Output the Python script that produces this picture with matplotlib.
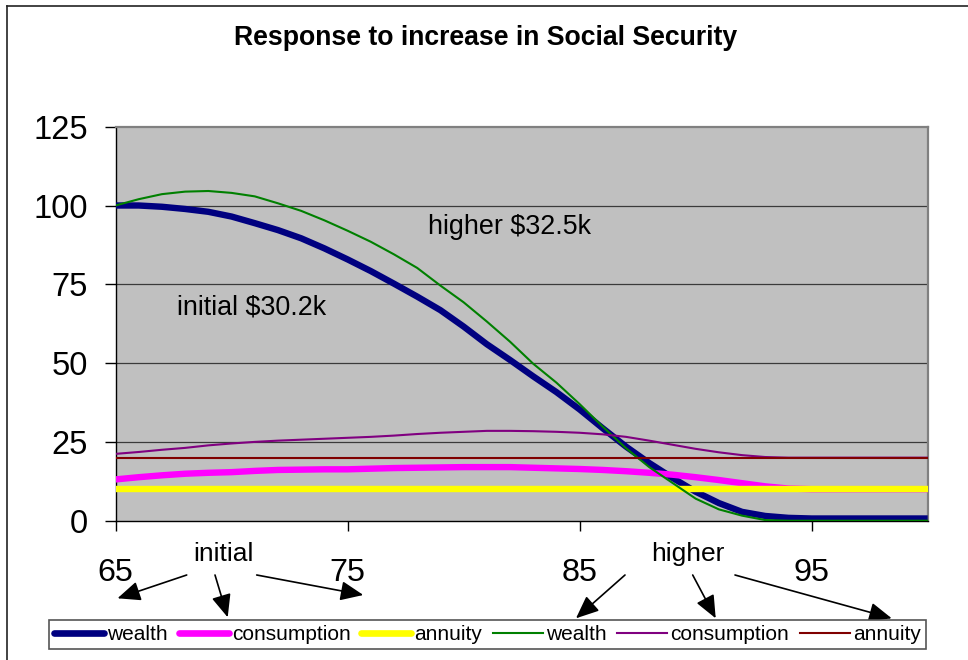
import matplotlib
matplotlib.use("Agg")
import matplotlib.pyplot as plt
from matplotlib.lines import Line2D

plt.rcParams['font.family'] = ['Liberation Sans', 'DejaVu Sans']

# ---------------- data ----------------
ages = list(range(65, 101))

wealth_initial = [100.0, 100.0, 99.6, 98.9, 98.0, 96.5, 94.4, 92.2, 89.6, 86.4,
                  82.9, 79.2, 75.2, 71.1, 66.8, 61.6, 56.0, 51.0, 45.8, 40.8,
                  35.3, 29.3, 23.5, 18.3, 13.6, 9.2, 5.6, 2.8, 1.5, 0.9,
                  0.7, 0.7, 0.7, 0.7, 0.7, 0.7]
consumption_initial = [13.1, 13.8, 14.4, 14.9, 15.2, 15.4, 15.8, 16.1, 16.2, 16.3,
                       16.3, 16.5, 16.7, 16.8, 16.9, 17.0, 17.0, 17.0, 16.8, 16.6,
                       16.4, 16.1, 15.7, 15.2, 14.6, 13.8, 12.9, 11.9, 10.9, 10.2,
                       10.0, 10.0, 10.0, 10.0, 10.0, 10.0]
annuity_initial = [10.0] * 36

wealth_higher = [100.0, 102.0, 103.6, 104.4, 104.6, 104.0, 102.9, 100.7, 98.3, 95.3,
                 92.0, 88.5, 84.5, 80.2, 74.6, 69.3, 63.2, 56.8, 49.8, 43.8,
                 37.0, 29.8, 23.0, 17.0, 12.0, 7.0, 3.6, 1.6, 0.2, 0.0,
                 0.0, 0.0, 0.0, 0.0, 0.0, 0.0]
consumption_higher = [21.2, 21.8, 22.5, 23.1, 23.9, 24.5, 25.0, 25.4, 25.7, 26.0,
                      26.3, 26.6, 27.0, 27.5, 27.9, 28.2, 28.5, 28.5, 28.4, 28.2,
                      27.9, 27.4, 26.6, 25.4, 24.1, 22.8, 21.7, 20.8, 20.2, 20.0,
                      20.0, 20.0, 20.0, 20.0, 20.0, 20.0]
annuity_higher = [20.0] * 36

x_ticks = [65, 75, 85, 95]
y_ticks = [0, 25, 50, 75, 100, 125]
series_labels = ["wealth", "consumption", "annuity", "wealth", "consumption", "annuity"]

title = "Response to increase in Social Security"

# ---------------- figure ----------------
W, H = 968, 660
fig = plt.figure(figsize=(W / 100, H / 100), dpi=100)
fig.patch.set_facecolor('white')

def fx(x):
    return x / W

def fy(y):
    return 1 - y / H

ax_l, ax_r, ax_t, ax_b = 115.5, 927.7, 126.7, 520.7
ax = fig.add_axes([fx(ax_l), fy(ax_b), (ax_r - ax_l) / W, (ax_b - ax_t) / H])
ax.set_facecolor('#C0C0C0')
ax.set_xlim(65, 100)
ax.set_ylim(0, 125)

for v in [25, 50, 75, 100]:
    ax.axhline(v, color='#3a3a3a', lw=0.9, zorder=1)

thick = 4.6
thin = 1.5
ax.plot(ages, wealth_initial, color='#000080', lw=thick, solid_capstyle='butt',
        solid_joinstyle='round', zorder=3)
ax.plot(ages, consumption_initial, color='#FF00FF', lw=thick, solid_capstyle='butt',
        solid_joinstyle='round', zorder=3)
ax.plot(ages, annuity_initial, color='#FFFF00', lw=thick, solid_capstyle='butt', zorder=3)
ax.plot(ages, wealth_higher, color='#008000', lw=thin, solid_joinstyle='round', zorder=4)
ax.plot(ages, consumption_higher, color='#800080', lw=thin, solid_joinstyle='round', zorder=4)
ax.plot(ages, annuity_higher, color='#800000', lw=thin, zorder=4)

ax.set_xticks(x_ticks)
ax.set_yticks(y_ticks)
ax.tick_params(axis='x', direction='out', length=7.2, width=1, pad=19.5, labelsize=23.3)
ax.tick_params(axis='y', direction='out', length=8, width=1, pad=12, labelsize=23.5)

for s in ['left', 'bottom']:
    ax.spines[s].set_color('black')
    ax.spines[s].set_linewidth(1)
for s in ['top', 'right']:
    ax.spines[s].set_color('#808080')
    ax.spines[s].set_linewidth(1.6)

ax.text(70.87, 65.4, "initial $30.2k", ha='center', va='baseline', fontsize=19.4, parse_math=False, zorder=5)
ax.text(81.96, 90.9, "higher $32.5k", ha='center', va='baseline', fontsize=19.4, parse_math=False, zorder=5)

fig.text(fx(485.5), fy(45), title, ha='center', va='baseline', fontsize=19.2, fontweight='bold')

fig.text(fx(223), fy(560.7), "initial", ha='center', va='baseline', fontsize=19.0)
fig.text(fx(687.5), fy(560.5), "higher", ha='center', va='baseline', fontsize=19.0)

arrows = [((186.7, 575), (117.5, 598.3)),
          ((215, 575), (227.7, 617.3)),
          ((256.7, 575), (363.3, 595)),
          ((625, 575), (576, 618.3)),
          ((692.7, 575), (715.7, 618.3)),
          ((735, 575), (891.7, 618.3))]
for (x0, y0), (x1, y1) in arrows:
    ax.annotate('', xy=(x1, H - y1), xycoords='figure pixels',
                xytext=(x0, H - y0), textcoords='figure pixels',
                arrowprops=dict(arrowstyle='-|>,head_length=1.4,head_width=0.6',
                                mutation_scale=10, color='black', lw=1.2,
                                shrinkA=0, shrinkB=0),
                annotation_clip=False)

handles = [Line2D([], [], color='#000080', lw=4.8, solid_capstyle='round'),
           Line2D([], [], color='#FF00FF', lw=4.8, solid_capstyle='round'),
           Line2D([], [], color='#FFFF00', lw=4.8, solid_capstyle='round'),
           Line2D([], [], color='#008000', lw=1.5),
           Line2D([], [], color='#800080', lw=1.5),
           Line2D([], [], color='#800000', lw=1.5)]
leg = fig.legend(handles, series_labels, loc='center', ncol=6, mode='expand',
                 bbox_to_anchor=(fx(49), fy(651), (926 - 49) / W, 33 / H),
                 fontsize=15, handlelength=2.4, handletextpad=0.15,
                 borderpad=0.25, borderaxespad=0, columnspacing=0.5,
                 fancybox=False, framealpha=1)
leg.get_frame().set_edgecolor('#555555')
leg.get_frame().set_linewidth(1.2)

# chart border (left and top)
fig.add_artist(Line2D([fx(7), fx(7)], [fy(6), 0], color='#222222', lw=1.2))
fig.add_artist(Line2D([fx(7), 1], [fy(6), fy(6)], color='#222222', lw=1.2))

fig.savefig('out.png', dpi=100)
